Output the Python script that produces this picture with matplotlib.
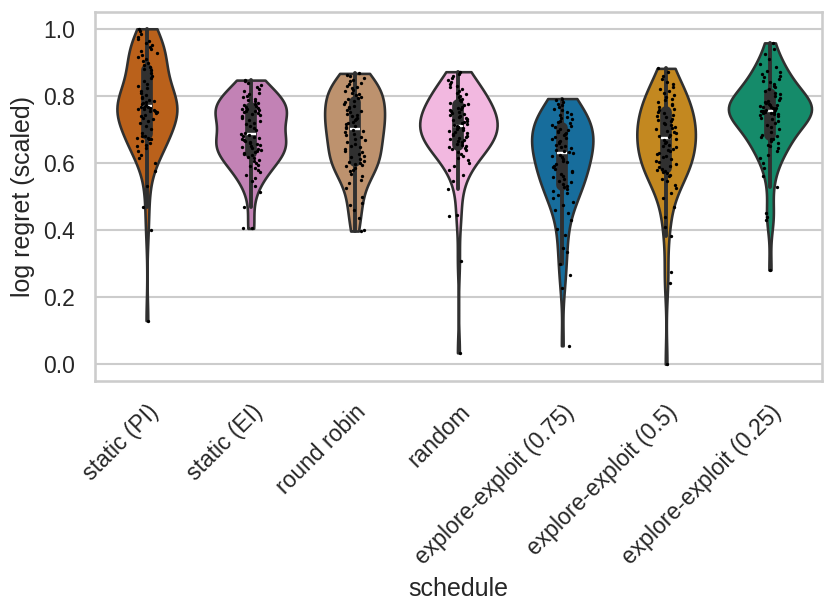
import numpy as np
import pandas as pd
import matplotlib
matplotlib.use("Agg")
import matplotlib.pyplot as plt
import seaborn as sns

# schedules and their colours (seaborn colorblind palette, reordered)
schedules = ["static (PI)", "static (EI)", "round robin", "random",
             "explore-exploit (0.75)", "explore-exploit (0.5)", "explore-exploit (0.25)"]
colors = ["#d55e00", "#cc78bc", "#ca9161", "#fbafe4", "#0173b2", "#de8f05", "#029e73"]

# log regret (scaled)
static_pi = [
    0.13, 0.40, 0.47, 0.53, 0.575, 0.60, 0.615, 0.625, 0.635, 0.645,
    0.65, 0.655, 0.66, 0.665, 0.67, 0.67, 0.675, 0.675, 0.68, 0.68,
    0.69, 0.70, 0.71, 0.718, 0.725, 0.73, 0.735, 0.74, 0.744, 0.748,
    0.751, 0.754, 0.756, 0.758, 0.76, 0.762, 0.764, 0.766, 0.767, 0.768,
    0.77, 0.772, 0.775, 0.778, 0.781, 0.785, 0.789, 0.793, 0.798, 0.803,
    0.809, 0.815, 0.822, 0.829, 0.836, 0.844, 0.852, 0.86, 0.868, 0.876,
    0.88, 0.886, 0.892, 0.898, 0.904, 0.91, 0.916, 0.922, 0.928, 0.934,
    0.94, 0.946, 0.952, 0.958, 0.964, 0.97, 0.976, 0.984, 0.992, 1.0,
]
static_ei = [
    0.405, 0.407, 0.468, 0.514, 0.53, 0.545, 0.555, 0.565, 0.572, 0.579,
    0.585, 0.59, 0.595, 0.60, 0.605, 0.61, 0.615, 0.619, 0.623, 0.627,
    0.63, 0.633, 0.636, 0.639, 0.642, 0.645, 0.648, 0.651, 0.654, 0.657,
    0.66, 0.663, 0.666, 0.669, 0.672, 0.675, 0.678, 0.681, 0.683, 0.685,
    0.69, 0.697, 0.704, 0.71, 0.716, 0.72, 0.725, 0.729, 0.733, 0.737,
    0.741, 0.744, 0.747, 0.75, 0.752, 0.754, 0.756, 0.758, 0.76, 0.762,
    0.765, 0.768, 0.771, 0.774, 0.777, 0.78, 0.784, 0.788, 0.792, 0.796,
    0.80, 0.805, 0.81, 0.815, 0.82, 0.826, 0.832, 0.838, 0.843, 0.847,
]
round_robin = [
    0.397, 0.40, 0.437, 0.46, 0.475, 0.48, 0.50, 0.525, 0.54, 0.55,
    0.56, 0.568, 0.575, 0.58, 0.585, 0.59, 0.594, 0.597, 0.60, 0.602,
    0.607, 0.612, 0.617, 0.622, 0.627, 0.632, 0.637, 0.642, 0.647, 0.652,
    0.657, 0.662, 0.667, 0.672, 0.677, 0.682, 0.687, 0.692, 0.696, 0.699,
    0.703, 0.707, 0.711, 0.715, 0.719, 0.723, 0.727, 0.731, 0.735, 0.739,
    0.743, 0.747, 0.751, 0.755, 0.759, 0.763, 0.767, 0.771, 0.776, 0.782,
    0.786, 0.79, 0.794, 0.798, 0.802, 0.806, 0.81, 0.814, 0.818, 0.822,
    0.826, 0.83, 0.834, 0.838, 0.843, 0.848, 0.853, 0.858, 0.863, 0.867,
]
random_sched = [
    0.034, 0.308, 0.442, 0.444, 0.522, 0.545, 0.565, 0.58, 0.59, 0.60,
    0.608, 0.615, 0.622, 0.628, 0.634, 0.639, 0.643, 0.646, 0.649, 0.652,
    0.655, 0.658, 0.661, 0.664, 0.667, 0.67, 0.673, 0.676, 0.679, 0.682,
    0.685, 0.688, 0.691, 0.694, 0.697, 0.70, 0.703, 0.706, 0.708, 0.71,
    0.713, 0.716, 0.719, 0.722, 0.725, 0.728, 0.731, 0.734, 0.737, 0.74,
    0.743, 0.746, 0.749, 0.752, 0.755, 0.758, 0.761, 0.764, 0.768, 0.772,
    0.776, 0.78, 0.784, 0.788, 0.792, 0.796, 0.80, 0.805, 0.81, 0.815,
    0.82, 0.825, 0.83, 0.835, 0.84, 0.846, 0.852, 0.858, 0.865, 0.872,
]
ee_075 = [
    0.055, 0.227, 0.266, 0.30, 0.336, 0.345, 0.386, 0.404, 0.43, 0.45,
    0.461, 0.475, 0.485, 0.495, 0.503, 0.51, 0.517, 0.522, 0.527, 0.532,
    0.537, 0.542, 0.547, 0.552, 0.557, 0.562, 0.567, 0.572, 0.577, 0.582,
    0.587, 0.592, 0.597, 0.602, 0.607, 0.612, 0.617, 0.621, 0.625, 0.629,
    0.633, 0.637, 0.64, 0.644, 0.648, 0.652, 0.655, 0.659, 0.663, 0.666,
    0.67, 0.674, 0.678, 0.682, 0.686, 0.69, 0.693, 0.696, 0.699, 0.702,
    0.706, 0.71, 0.714, 0.718, 0.722, 0.726, 0.73, 0.734, 0.738, 0.742,
    0.747, 0.752, 0.757, 0.762, 0.767, 0.772, 0.777, 0.782, 0.787, 0.792,
]
ee_05 = [
    0.0, 0.242, 0.276, 0.383, 0.41, 0.44, 0.47, 0.495, 0.51, 0.525,
    0.535, 0.545, 0.553, 0.56, 0.565, 0.57, 0.574, 0.577, 0.58, 0.582,
    0.587, 0.592, 0.597, 0.602, 0.607, 0.612, 0.617, 0.622, 0.627, 0.631,
    0.635, 0.639, 0.643, 0.647, 0.651, 0.655, 0.659, 0.663, 0.668, 0.672,
    0.676, 0.68, 0.684, 0.688, 0.692, 0.696, 0.70, 0.704, 0.708, 0.712,
    0.716, 0.72, 0.724, 0.728, 0.732, 0.736, 0.74, 0.744, 0.748, 0.752,
    0.757, 0.762, 0.767, 0.772, 0.777, 0.782, 0.787, 0.792, 0.797, 0.802,
    0.808, 0.814, 0.82, 0.827, 0.834, 0.842, 0.85, 0.86, 0.87, 0.882,
]
ee_025 = [
    0.281, 0.43, 0.44, 0.452, 0.527, 0.56, 0.585, 0.60, 0.615, 0.625,
    0.635, 0.645, 0.65, 0.655, 0.66, 0.665, 0.67, 0.672, 0.676, 0.68,
    0.684, 0.692, 0.70, 0.707, 0.714, 0.72, 0.726, 0.731, 0.735, 0.739,
    0.742, 0.745, 0.747, 0.749, 0.75, 0.751, 0.752, 0.753, 0.754, 0.755,
    0.756, 0.757, 0.758, 0.76, 0.761, 0.763, 0.764, 0.766, 0.768, 0.77,
    0.772, 0.774, 0.776, 0.778, 0.781, 0.784, 0.788, 0.793, 0.799, 0.805,
    0.81, 0.815, 0.82, 0.825, 0.83, 0.835, 0.84, 0.845, 0.85, 0.855,
    0.86, 0.865, 0.87, 0.875, 0.885, 0.895, 0.91, 0.925, 0.94, 0.958,
]

values = [static_pi, static_ei, round_robin, random_sched, ee_075, ee_05, ee_025]
df = pd.DataFrame({
    "schedule": np.repeat(schedules, [len(v) for v in values]),
    "log regret (scaled)": np.concatenate(values),
})

sns.set_theme(style="whitegrid", context="notebook")
plt.rcParams["font.family"] = ["Liberation Sans", "DejaVu Sans"]

fig = plt.figure(figsize=(831 / 150, 616 / 150), dpi=150)
ax = fig.add_axes([0.1143, 0.3815, 0.8747, 0.599])

# common_norm so violin widths compare across schedules
sns.violinplot(data=df, x="schedule", y="log regret (scaled)", hue="schedule",
               order=schedules, hue_order=schedules, palette=colors,
               cut=0, inner="box", common_norm=True, legend=False, ax=ax)
np.random.seed(3)
sns.stripplot(data=df, x="schedule", y="log regret (scaled)", order=schedules,
              color="black", size=1.6, jitter=True, ax=ax)

ax.set_xlabel("schedule")
ax.set_ylabel("log regret (scaled)")
plt.setp(ax.get_xticklabels(), rotation=45, ha="right", rotation_mode="anchor")

fig.savefig("out.png", dpi=150)
